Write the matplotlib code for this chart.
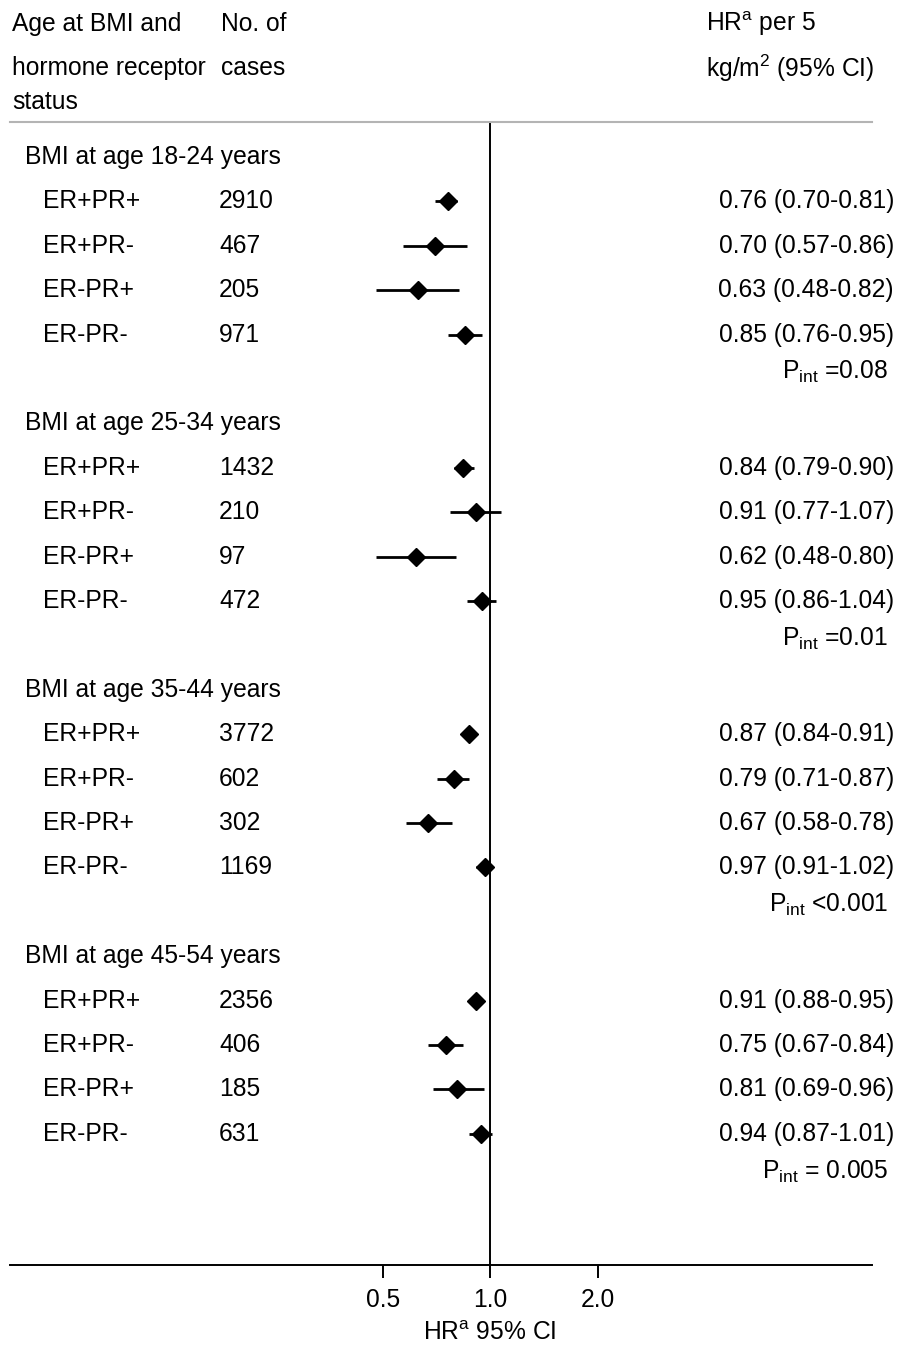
import matplotlib
matplotlib.use("Agg")
import matplotlib.pyplot as plt
import matplotlib.transforms as mtransforms

plt.rcParams["font.family"] = ["Liberation Sans", "DejaVu Sans"]
plt.rcParams["mathtext.fontset"] = "custom"
plt.rcParams["mathtext.rm"] = "Liberation Sans"
plt.rcParams["mathtext.it"] = "Liberation Sans:italic"

groups = ["BMI at age 18-24 years", "BMI at age 25-34 years",
          "BMI at age 35-44 years", "BMI at age 45-54 years"]
subtypes = ["ER+PR+", "ER+PR-", "ER-PR+", "ER-PR-"]
cases = [[2910, 467, 205, 971],
         [1432, 210, 97, 472],
         [3772, 602, 302, 1169],
         [2356, 406, 185, 631]]
hr = [[0.76, 0.70, 0.63, 0.85],
      [0.84, 0.91, 0.62, 0.95],
      [0.87, 0.79, 0.67, 0.97],
      [0.91, 0.75, 0.81, 0.94]]
ci_low = [[0.70, 0.57, 0.48, 0.76],
          [0.79, 0.77, 0.48, 0.86],
          [0.84, 0.71, 0.58, 0.91],
          [0.88, 0.67, 0.69, 0.87]]
ci_high = [[0.81, 0.86, 0.82, 0.95],
           [0.90, 1.07, 0.80, 1.04],
           [0.91, 0.87, 0.78, 1.02],
           [0.95, 0.84, 0.96, 1.01]]
p_int = ["=0.08", "=0.01", "<0.001", "= 0.005"]
xticks = [0.5, 1.0, 2.0]
xtick_labels = ["0.5", "1.0", "2.0"]

W, H = 899, 1346
FS = 17.7

fig = plt.figure(figsize=(W / 100, H / 100), dpi=100)
ax = fig.add_axes([10 / W, 1 - 1265 / H, 862 / W, (1265 - 122) / H])
ax.set_xscale("log")
ax.set_xlim(0.0452, 11.74)
ax.set_ylim(1265, 122)

for side in ["left", "right"]:
    ax.spines[side].set_visible(False)
ax.spines["top"].set_color("#b4b4b4")
ax.spines["top"].set_linewidth(1.5)
ax.spines["bottom"].set_linewidth(1.4)
ax.set_yticks([])
ax.set_xticks(xticks)
ax.set_xticklabels(xtick_labels)
ax.minorticks_off()
ax.tick_params(axis="x", length=9.5, width=1.4, labelsize=FS, pad=7)
ax.axvline(1.0, color="black", lw=1.4)

trans = mtransforms.blended_transform_factory(ax.transAxes, ax.transData)


def tx(px):
    return (px - 10) / 862


def put(px, y, s, ha="left"):
    ax.text(tx(px), y, s, transform=trans, ha=ha, va="center",
            fontsize=FS, clip_on=False)


# header
put(12, 24, "Age at BMI and")
put(12, 68, "hormone receptor")
put(12, 102, "status")
put(221, 24, "No. of")
put(221, 68, "cases")
put(706, 24, r"HR$^{\mathrm{a}}$ per 5")
put(706, 68, r"kg/m$^{\mathrm{2}}$ (95% CI)")

y0 = 157
step = 44.4
for g, name in enumerate(groups):
    gy = y0 + 6 * g * step
    put(25, gy, name)
    ys = [gy + (i + 1) * step for i in range(len(subtypes))]
    ax.hlines(ys, ci_low[g], ci_high[g], color="black", lw=2.0)
    ax.plot(hr[g], ys, "D", color="black", ms=8.7, ls="none")
    for i, sub in enumerate(subtypes):
        put(43, ys[i], sub)
        put(219, ys[i], str(cases[g][i]))
        put(894, ys[i], f"{hr[g][i]:.2f} ({ci_low[g][i]:.2f}-{ci_high[g][i]:.2f})", ha="right")
    put(888, gy + 4.85 * step, r"P$_{\mathrm{int}}$ " + p_int[g], ha="right")

# x-axis title, centred on HR = 1
ax.text(1.0, 1340, r"HR$^{\mathrm{a}}$ 95% CI", transform=ax.transData,
        ha="center", va="baseline", fontsize=FS, clip_on=False)

fig.savefig("out.png", dpi=100)
